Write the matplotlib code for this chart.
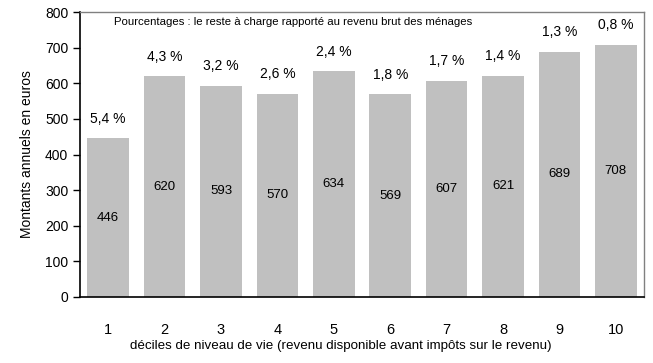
#!/usr/bin/env python
# bar chart: reste a charge annuel par decile de niveau de vie

import matplotlib
matplotlib.use("Agg")
from matplotlib import pyplot as plt

deciles = [1, 2, 3, 4, 5, 6, 7, 8, 9, 10]
montants = [446, 620, 593, 570, 634, 569, 607, 621, 689, 708]
pourcentages = ["5,4 %", "4,3 %", "3,2 %", "2,6 %", "2,4 %",
                "1,8 %", "1,7 %", "1,4 %", "1,3 %", "0,8 %"]

plt.rcParams['font.family'] = ['Liberation Sans', 'DejaVu Sans']

fig = plt.figure(figsize=(6.53, 3.63), dpi=100)
ax = fig.add_axes([80 / 653, 1 - 297 / 363, 564 / 653, 285 / 363])

bars = ax.bar(deciles, montants, width=0.74, color='#c0c0c0')

# values in the middle of the bars, percentages above
for x, m, p in zip(deciles, montants, pourcentages):
    ax.text(x, m / 2, str(m), ha='center', va='center', fontsize=9.5)
    ax.annotate(p, xy=(x, m), xytext=(0, 14), textcoords='offset points',
                ha='center', va='center', fontsize=10)

ax.text(0.06, 0.965, "Pourcentages : le reste à charge rapporté au revenu brut des ménages",
        transform=ax.transAxes, ha='left', va='center', fontsize=8.2)

ax.set_xlim(0.5, 10.5)
ax.set_ylim(0, 800)
ax.set_yticks(range(0, 801, 100))
ax.set_xticks(deciles)
ax.tick_params(axis='x', length=0, pad=19, labelsize=10.5)
ax.tick_params(axis='y', length=5, width=1, labelsize=10)

for side in ['top', 'right']:
    ax.spines[side].set_color('#808080')
    ax.spines[side].set_linewidth(1)
for side in ['left', 'bottom']:
    ax.spines[side].set_color('black')
    ax.spines[side].set_linewidth(1.2)

ax.set_xlabel("déciles de niveau de vie (revenu disponible avant impôts sur le revenu)",
              fontsize=9.6, labelpad=2)
ax.xaxis.set_label_coords(0.463, -0.15)
ax.set_ylabel("Montants annuels en euros", fontsize=10, labelpad=8)

fig.savefig("out.png", dpi=100)
